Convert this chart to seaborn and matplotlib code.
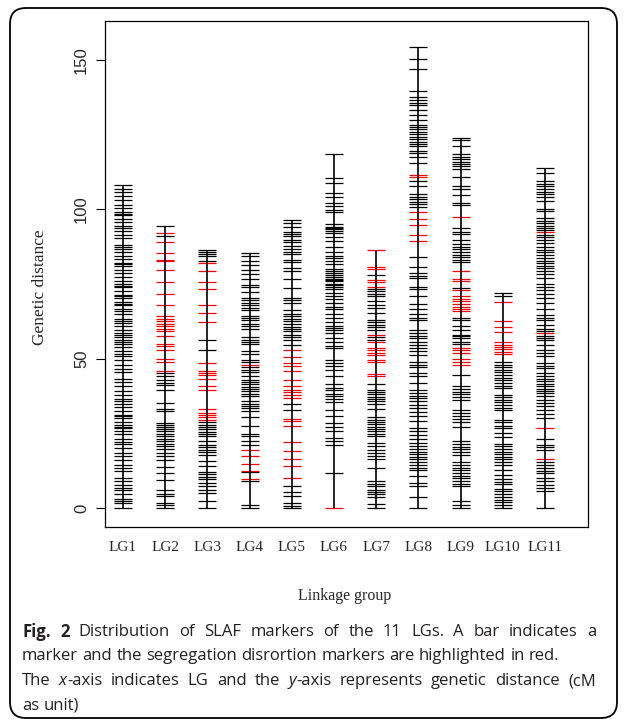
import numpy as np
import pandas as pd
import matplotlib
matplotlib.use("Agg")
import matplotlib.pyplot as plt
from matplotlib.patches import FancyBboxPatch
import seaborn as sns

# marker positions (cM), black = normal, red = distorted
LG_NAMES = ["LG1", "LG2", "LG3", "LG4", "LG5", "LG6", "LG7", "LG8", "LG9", "LG10", "LG11"]

LG1_BLACK = [108.0, 106.8, 105.7, 104.5, 103.2, 101.5, 100.4, 99.1, 98.5, 97.9, 96.8, 95.6, 94.4,
             93.8, 92.6, 91.5, 90.3, 88.0, 87.2, 86.7, 85.6, 84.4, 83.2, 82.1, 81.5, 80.9, 79.7,
             78.5, 77.3, 76.1, 75.0, 74.4, 73.8, 72.6, 71.4, 70.8, 70.2, 69.0, 68.4, 67.9, 66.7,
             65.8, 64.9, 63.1, 62.5, 61.9, 60.8, 59.6, 58.4, 58.0, 57.3, 56.1, 55.4, 54.8, 53.7,
             52.5, 51.4, 50.8, 49.6, 47.9, 46.5, 45.4, 43.1, 42.0, 40.8, 39.0, 37.8, 36.6, 35.7,
             34.8, 33.7, 32.5, 31.2, 30.6, 30.1, 28.9, 27.7, 27.2, 26.6, 25.7, 24.8, 23.0, 22.2,
             21.3, 20.1, 18.3, 17.4, 16.0, 14.2, 13.3, 12.4, 10.1, 8.9, 7.6, 6.8, 5.9, 4.8, 3.0,
             2.4, 1.8, 0.0]
LG1_RED = []

LG2_BLACK = [94.4, 90.9, 45.2, 44.3, 42.9, 41.8, 41.0, 39.6, 35.1, 33.1, 32.3, 28.4, 27.8, 27.1,
             26.4, 25.6, 24.9, 24.0, 23.1, 22.3, 21.5, 20.6, 19.7, 18.4, 17.3, 15.9, 13.6, 11.7,
             9.5, 5.9, 4.8, 3.9, 1.7, 0.8, 0.0]
LG2_RED = [92.0, 88.9, 85.3, 83.1, 82.5, 79.7, 75.5, 71.7, 68.0, 64.1, 63.2, 62.4, 61.6, 60.8,
           59.9, 59.1, 57.6, 55.0, 54.1, 52.7, 49.8, 48.7, 45.9]

LG3_BLACK = [86.4, 85.6, 84.9, 84.3, 82.6, 56.3, 52.7, 28.7, 27.9, 27.1, 26.3, 25.5, 24.7, 24.0,
             22.3, 21.2, 20.4, 19.5, 18.6, 17.7, 15.6, 13.9, 12.0, 11.3, 10.5, 9.7, 8.4, 7.2,
             6.1, 5.0, 2.2, 0.0]
LG3_RED = [82.0, 79.4, 75.5, 73.2, 68.0, 65.4, 62.1, 48.5, 45.7, 45.0, 44.4, 43.1, 40.9, 39.6,
           33.1, 31.8, 31.1, 30.4, 29.5]

LG4_BLACK = [85.3, 84.2, 82.8, 81.2, 79.7, 78.3, 76.6, 74.7, 74.1, 72.2, 70.2, 69.5, 68.6, 67.8,
             67.0, 66.2, 64.3, 63.5, 62.8, 61.6, 60.8, 60.0, 57.1, 56.3, 55.5, 54.7, 52.4, 51.6,
             49.6, 48.8, 47.0, 46.3, 45.5, 44.0, 42.9, 42.1, 41.4, 40.6, 39.8, 39.0, 38.2, 37.3,
             35.7, 34.9, 34.1, 33.3, 32.6, 30.3, 27.5, 24.7, 24.0, 22.3, 21.2, 11.9, 8.9, 0.8, 0.0]
LG4_RED = [47.9, 19.3, 17.3, 14.8, 12.3, 9.7]

LG5_BLACK = [96.4, 95.5, 94.0, 92.5, 91.6, 90.9, 89.7, 88.9, 87.7, 86.6, 85.8, 85.1, 83.1, 82.3,
             80.3, 79.2, 76.6, 73.6, 70.2, 69.5, 68.6, 66.3, 65.0, 64.1, 63.2, 62.4, 61.6, 60.5,
             59.9, 59.1, 58.0, 57.1, 56.3, 54.6, 34.8, 32.7, 7.2, 5.2, 3.9, 1.7, 0.6, 0.0]
LG5_RED = [53.0, 50.4, 48.5, 47.6, 45.7, 42.7, 40.7, 39.6, 38.7, 37.9, 36.8, 29.8, 29.0, 27.5,
           22.0, 19.0, 16.2, 13.9, 10.0]

LG6_BLACK = [118.4, 110.4, 108.7, 105.4, 104.2, 102.0, 100.9, 99.6, 98.9, 95.1, 94.0, 93.6, 93.3,
             92.6, 92.0, 90.6, 89.2, 87.5, 85.5, 84.2, 83.5, 82.6, 81.7, 79.9, 79.3, 78.6, 77.9,
             77.3, 76.6, 76.2, 75.9, 75.0, 74.6, 74.1, 73.2, 72.1, 71.0, 69.9, 68.6, 67.4, 66.6,
             65.0, 63.5, 62.1, 61.0, 60.2, 59.4, 58.5, 56.9, 55.7, 54.3, 53.4, 49.6, 48.5, 47.4,
             46.3, 44.0, 41.6, 40.1, 39.4, 38.2, 37.3, 36.5, 35.3, 32.9, 30.7, 28.4, 27.1, 25.6,
             23.4, 22.3, 21.2, 11.7]
LG6_RED = [0.0]

LG7_BLACK = [78.0, 73.2, 72.5, 71.7, 70.8, 69.1, 68.0, 66.9, 65.2, 63.0, 62.1, 61.3, 60.5, 59.6,
             57.2, 56.3, 41.6, 39.6, 38.8, 38.0, 37.2, 36.5, 35.7, 34.9, 33.1, 30.3, 29.5, 28.8,
             28.0, 27.2, 26.4, 25.6, 24.9, 24.0, 21.7, 20.6, 19.5, 18.4, 17.3, 16.4, 13.4, 8.9,
             8.0, 7.2, 6.1, 5.4, 4.5, 3.7, 1.3, 0.0]
LG7_RED = [86.4, 80.8, 79.9, 76.4, 75.5, 74.1, 58.0, 55.5, 53.5, 52.7, 51.8, 51.2, 49.6, 48.7,
           44.8, 44.3]

LG8_BLACK = [154.2, 150.2, 146.8, 139.7, 137.7, 136.6, 135.7, 134.8, 133.2, 131.5, 129.9, 128.2,
             127.4, 126.8, 126.0, 125.2, 124.3, 123.4, 122.6, 121.8, 121.0, 119.6, 118.7, 117.6,
             115.6, 109.3, 107.6, 105.1, 104.2, 103.3, 102.5, 101.6, 100.7, 83.9, 80.8, 78.6,
             77.7, 76.9, 74.1, 73.2, 71.1, 68.3, 66.6, 65.0, 63.5, 63.0, 59.4, 58.5, 57.6, 56.9,
             55.7, 54.6, 53.5, 52.4, 51.3, 48.7, 47.9, 47.2, 45.2, 44.0, 41.8, 39.4, 38.5, 37.6,
             36.8, 35.7, 34.6, 33.4, 32.0, 30.7, 29.0, 26.8, 25.6, 24.5, 22.9, 21.7, 20.6, 19.7,
             18.8, 17.9, 17.1, 16.2, 15.3, 14.4, 13.5, 12.6, 10.6, 8.4, 7.2, 3.7, 0.0]
LG8_RED = [111.5, 110.9, 98.9, 96.7, 94.8, 91.4, 89.5]

LG9_BLACK = [123.7, 123.0, 121.2, 118.5, 117.6, 116.7, 115.9, 115.2, 114.3, 113.4, 110.9, 107.6,
             106.7, 104.8, 102.2, 101.4, 93.6, 92.5, 91.7, 89.7, 88.4, 87.5, 86.6, 85.7, 84.8,
             83.9, 83.1, 82.2, 73.6, 63.5, 62.8, 60.8, 59.6, 58.0, 57.4, 56.9, 55.7, 55.0, 44.6,
             40.7, 39.8, 38.9, 38.0, 37.1, 36.2, 32.9, 31.8, 30.7, 29.8, 28.7, 27.1, 22.3, 21.4,
             20.5, 19.6, 18.7, 17.8, 15.3, 14.4, 13.5, 12.6, 11.7, 10.8, 9.9, 9.0, 8.1, 7.2, 2.2,
             1.1, 0.0]
LG9_RED = [97.5, 79.2, 76.6, 75.8, 73.0, 70.8, 69.9, 69.1, 68.3, 67.4, 66.6, 65.8, 53.5, 52.7,
           51.8, 49.8, 48.7, 47.9]

LG10_BLACK = [72.1, 70.8, 48.7, 47.9, 47.2, 46.3, 45.4, 44.5, 43.6, 42.7, 41.8, 40.9, 40.1, 37.9,
              37.1, 36.2, 35.3, 34.4, 33.6, 32.7, 29.5, 28.7, 27.5, 26.8, 25.1, 23.7, 21.5, 20.6,
              19.7, 18.8, 17.9, 17.1, 16.2, 15.3, 14.4, 12.6, 11.1, 9.7, 8.8, 7.9, 6.4, 5.5, 4.6,
              3.7, 2.8, 1.9, 1.1, 0.0]
LG10_RED = [68.8, 62.7, 60.5, 58.9, 55.4, 54.6, 53.8, 53.1, 52.3, 51.5]

LG11_BLACK = [113.9, 112.0, 109.3, 108.5, 107.6, 106.8, 105.9, 105.1, 104.2, 102.9, 100.0, 99.3,
              97.0, 96.2, 95.3, 94.5, 93.6, 92.9, 91.4, 90.6, 89.7, 88.6, 87.3, 86.4, 85.5, 84.6,
              83.7, 82.8, 81.9, 81.0, 80.2, 79.3, 78.4, 76.9, 75.0, 73.9, 72.8, 71.7, 70.2, 68.6,
              66.6, 64.5, 63.7, 62.8, 61.3, 59.9, 59.1, 57.6, 56.9, 56.1, 54.6, 53.0, 51.8, 50.7,
              48.5, 47.6, 46.7, 45.2, 44.0, 43.1, 42.4, 41.6, 40.7, 39.9, 39.1, 38.3, 37.6, 36.2,
              35.1, 34.0, 32.9, 31.5, 30.1, 23.1, 21.2, 20.4, 19.3, 15.3, 14.2, 13.4, 12.5, 11.7,
              10.0, 8.9, 7.8, 6.7, 5.6, 0.0]
LG11_RED = [92.3, 58.5, 26.8, 16.4]

Y_TICKS = [0, 50, 100, 150]

# caption lines as (text, style) runs; second item tells whether the line is justified
CAPTION = [
    ([("Fig. 2", "bold"), (" Distribution of SLAF markers of the 11 LGs. A bar indicates a", "normal")], True),
    ([("marker and the segregation disrortion markers are highlighted in red.", "normal")], False),
    ([("The ", "normal"), ("x", "italic"), ("-axis indicates LG and the ", "normal"), ("y", "italic"),
      ("-axis represents genetic distance (cM", "normal")], True),
    ([("as unit)", "normal")], False),
]

black_sets = [LG1_BLACK, LG2_BLACK, LG3_BLACK, LG4_BLACK, LG5_BLACK, LG6_BLACK,
              LG7_BLACK, LG8_BLACK, LG9_BLACK, LG10_BLACK, LG11_BLACK]
red_sets = [LG1_RED, LG2_RED, LG3_RED, LG4_RED, LG5_RED, LG6_RED,
            LG7_RED, LG8_RED, LG9_RED, LG10_RED, LG11_RED]

rows = []
for i, name in enumerate(LG_NAMES):
    for v in black_sets[i]:
        rows.append((i + 1, name, v, "normal"))
    for v in red_sets[i]:
        rows.append((i + 1, name, v, "distorted"))
df = pd.DataFrame(rows, columns=["x", "lg", "dist", "kind"])

sns.set_theme(style="white")
plt.rcParams["font.family"] = ["Liberation Serif", "DejaVu Serif"]

W, H = 627, 726
fig = plt.figure(figsize=(W / 100, H / 100), dpi=100)
fig.patch.set_facecolor("white")

# rounded outer frame (pixel coords)
frame = FancyBboxPatch((10, 8), 607, 710, boxstyle="round,pad=0,rounding_size=16",
                       transform=None, fill=False, ec="black", lw=1.3)
fig.add_artist(frame)

left, right, top, bottom = 105, 588, 21, 527
ax = fig.add_axes([left / W, 1 - bottom / H, (right - left) / W, (bottom - top) / H])

# vertical backbone of each LG
span = df.groupby("x")["dist"].agg(["min", "max"])
ax.vlines(span.index, span["min"], span["max"], color="black", lw=1.2, zorder=3)

# one dash per marker
sns.scatterplot(data=df, x="x", y="dist", hue="kind",
                palette={"normal": "black", "distorted": "red"},
                marker="_", s=170, linewidth=0.9, legend=False, ax=ax, zorder=2)

ax.set_xlim(0.573, 12.02)
ax.set_ylim(-6.4, 163)
ax.set_xticks(range(1, 12))
ax.set_xticklabels(LG_NAMES, fontsize=11, fontfamily="Liberation Serif")
ax.tick_params(axis="x", length=0, pad=10)
ax.set_yticks(Y_TICKS)
ax.set_yticklabels([str(t) for t in Y_TICKS], rotation=90, va="center",
                   fontsize=12, fontfamily="Liberation Sans")
ax.tick_params(axis="y", left=True, length=6.5, width=0.8, color="black", pad=5)
ax.set_xlabel("")
ax.set_ylabel("")
for sp in ax.spines.values():
    sp.set_visible(True)
    sp.set_color("black")
    sp.set_linewidth(0.9)

fig.text(40 / W, 1 - 287 / H, "Genetic distance", rotation=90, ha="center", va="center",
         fontsize=12.5, fontfamily="Liberation Serif")
fig.text(345 / W, 1 - 596 / H, "Linkage group", ha="center", va="center",
         fontsize=11.5, fontfamily="Liberation Serif")

# caption: words placed one after another, some lines justified
renderer = fig.canvas.get_renderer()
cap_kw = dict(fontsize=12, fontfamily="Open Sans", color="#231f20", va="center", ha="left")
style_kw = {"normal": {}, "bold": {"fontweight": "bold"}, "italic": {"fontstyle": "italic"}}


def run_width(s, style):
    kw = dict(cap_kw, **style_kw[style])
    t1 = fig.text(0, 0, "x" + s + "x", **kw)
    t0 = fig.text(0, 0, "xx", **kw)
    w = t1.get_window_extent(renderer).width - t0.get_window_extent(renderer).width
    t1.remove()
    t0.remove()
    return w


def split_words(runs):
    words = [[]]
    for txt, style in runs:
        for j, part in enumerate(txt.split(" ")):
            if j > 0:
                words.append([])
            if part:
                words[-1].append((part, style))
    return [w for w in words if w]


cap_left, cap_right = 22, 596
space_w = run_width(" ", "normal")
for k, (runs, justify) in enumerate(CAPTION):
    words = split_words(runs)
    widths = [sum(run_width(p, s) for p, s in w) for w in words]
    gap = space_w
    if justify and len(words) > 1:
        gap = (cap_right - cap_left - sum(widths)) / (len(words) - 1)
    x_px = cap_left
    y_px = 632 + 24.5 * k
    for w, ww in zip(words, widths):
        xx = x_px
        for p, s in w:
            fig.text(xx / W, 1 - y_px / H, p, **cap_kw, **style_kw[s])
            xx += run_width(p, s)
        x_px += ww + gap

fig.savefig("out.png", dpi=100, facecolor="white")
